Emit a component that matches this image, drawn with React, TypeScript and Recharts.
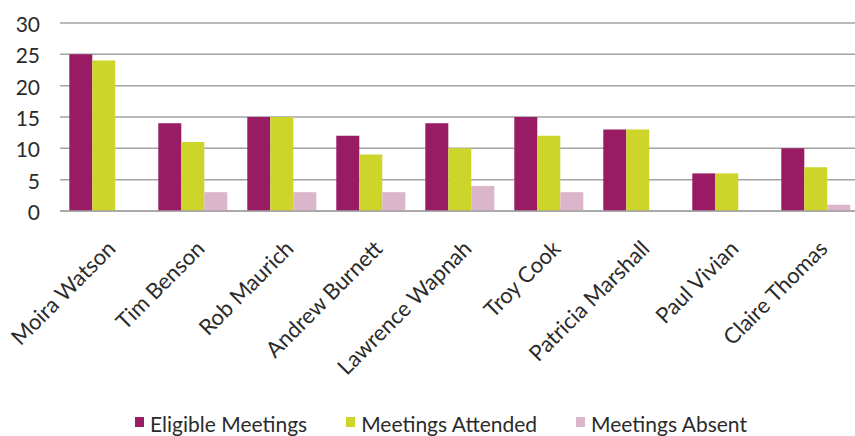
import React from 'react';
import { BarChart, Bar, XAxis, YAxis, CartesianGrid, Legend } from 'recharts';

const members = ['Moira Watson', 'Tim Benson', 'Rob Maurich', 'Andrew Burnett', 'Lawrence Wapnah', 'Troy Cook', 'Patricia Marshall', 'Paul Vivian', 'Claire Thomas'];
const eligible = [25, 14, 15, 12, 14, 15, 13, 6, 10];
const attended = [24, 11, 15, 9, 10, 12, 13, 6, 7];
const absent = [0, 3, 3, 3, 4, 3, 0, 0, 1];
const yTicks = [0, 5, 10, 15, 20, 25, 30];

const seriesNames = ['Eligible Meetings', 'Meetings Attended', 'Meetings Absent'];
const colors = ['#981B63', '#CDD42A', '#DBB5CA'];

const data = members.map((name, i) => ({
  name,
  eligible: eligible[i],
  attended: attended[i],
  absent: absent[i],
}));

const FONT = 'Lato, sans-serif';

const XTick = (props: any) => {
  const { x, y, payload } = props;
  return (
    <g transform={`translate(${x + 12.5},${y + 39}) rotate(-45)`}>
      <text x={0} y={0} textAnchor="end" fontFamily={FONT} fontSize={22} fill="#2b2b2b">
        {payload.value}
      </text>
    </g>
  );
};

const YTick = (props: any) => {
  const { x, y, payload } = props;
  return (
    <text x={x} y={y} dy={9} textAnchor="end" fontFamily={FONT} fontSize={21} fill="#2b2b2b">
      {payload.value}
    </text>
  );
};

const LegendContent = (props: any) => {
  const payload = [...(props.payload || [])].sort(
    (a: any, b: any) => seriesNames.indexOf(a.value) - seriesNames.indexOf(b.value)
  );
  return (
    <div style={{ height: 28, display: 'flex', justifyContent: 'center', paddingLeft: 21, boxSizing: 'border-box' }}>
      {payload.map((p: any, i: number) => (
        <div key={i} style={{ display: 'flex', alignItems: 'flex-start', marginLeft: i === 0 ? 0 : 39, fontFamily: FONT, fontSize: 21, lineHeight: '28px', color: '#2b2b2b', marginTop: 2 }}>
          <span style={{ display: 'inline-block', width: 9, height: 10, background: p.color, marginTop: 7, marginRight: 6 }} />
          <span>{p.value}</span>
        </div>
      ))}
    </div>
  );
};

export default function App() {
  return (
    <div style={{ position: 'fixed', left: 0, top: 0, width: 855, height: 436, overflow: 'hidden', background: '#fff' }}>
      <BarChart
        width={861}
        height={436}
        data={data}
        margin={{ top: 23, right: 0, bottom: 0, left: 0 }}
        barCategoryGap={9.3}
        barGap={0}
      >
        <CartesianGrid vertical={false} stroke="#A3A3A3" strokeWidth={1.5} />
        <XAxis
          dataKey="name"
          interval={0}
          height={197}
          tickLine={false}
          tickSize={0}
          tickMargin={0}
          axisLine={{ stroke: '#A3A3A3', strokeWidth: 1.5 }}
          tick={<XTick />}
        />
        <YAxis
          width={60}
          domain={[0, 30]}
          ticks={yTicks}
          interval={0}
          axisLine={false}
          tickLine={false}
          tickSize={0}
          tickMargin={20}
          tick={<YTick />}
        />
        <Legend verticalAlign="bottom" itemSorter={null as any} content={<LegendContent />} />
        <Bar dataKey="eligible" name={seriesNames[0]} fill={colors[0]} isAnimationActive={false} />
        <Bar dataKey="attended" name={seriesNames[1]} fill={colors[1]} isAnimationActive={false} />
        <Bar dataKey="absent" name={seriesNames[2]} fill={colors[2]} isAnimationActive={false} />
      </BarChart>
    </div>
  );
}
